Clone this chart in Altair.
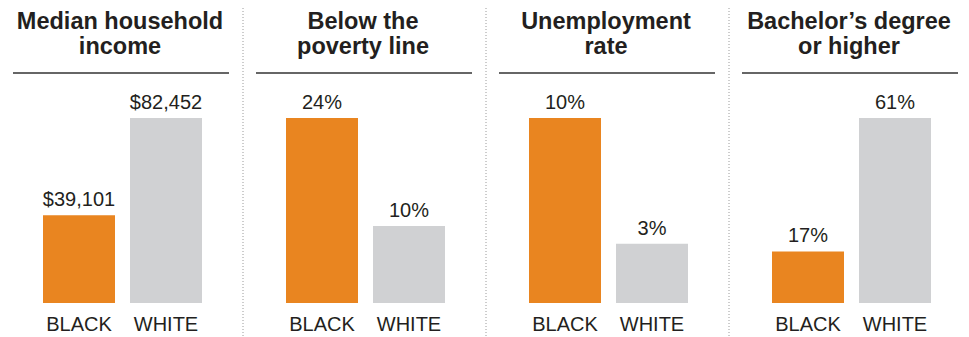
import altair as alt
import pandas as pd

titles = ["Median household\nincome", "Below the\npoverty line", "Unemployment\nrate", "Bachelor’s degree\nor higher"]
groups = ["BLACK", "WHITE"]
black_values = [39101, 24, 10, 17]
white_values = [82452, 10, 3.2, 61]
black_labels = ["$39,101", "24%", "10%", "17%"]
white_labels = ["$82,452", "10%", "3%", "61%"]

ORANGE = "#E98520"
GRAY = "#D0D1D3"
TEXT = "#231F20"
FONT = "Liberation Sans"

rows = []
for i in range(len(titles)):
    rows.append(dict(panel=i, group="BLACK", value=black_values[i], label=black_labels[i]))
    rows.append(dict(panel=i, group="WHITE", value=white_values[i], label=white_labels[i]))
df = pd.DataFrame(rows)
tdf = pd.DataFrame({"panel": list(range(len(titles))), "title": titles})
sdf = pd.DataFrame({"panel": list(range(len(titles) - 1))})

xscale = alt.Scale(domain=list(range(len(titles))), range=[0, 972], paddingInner=0, paddingOuter=0)
X = alt.X("panel:O", scale=xscale, axis=None)
XO = alt.XOffset("group:N", scale=alt.Scale(domain=groups, range=[35, 194], paddingInner=0.1724, paddingOuter=0))
Y = alt.Y("ratio:Q", scale=alt.Scale(domain=[0, 1], range=[295, 110]), axis=None)

base = alt.Chart(df).transform_joinaggregate(
    maxv="max(value)", groupby=["panel"]
).transform_calculate(ratio="datum.value / datum.maxv")

bars = base.mark_bar().encode(
    x=X, xOffset=XO, y=Y,
    color=alt.Color("group:N", scale=alt.Scale(domain=groups, range=[ORANGE, GRAY]), legend=None),
)
values = base.mark_text(baseline="alphabetic", dy=-9, fontSize=20, font=FONT, color=TEXT).encode(
    x=X, xOffset=XO, y=Y, text="label:N"
)
cats = base.mark_text(baseline="alphabetic", fontSize=20, font=FONT, color=TEXT).encode(
    x=X, xOffset=XO, y=alt.value(323), text="group:N"
)
title_text = alt.Chart(tdf).mark_text(
    baseline="alphabetic", align="center", lineBreak="\n", lineHeight=25,
    fontSize=23.5, fontWeight="bold", font=FONT, color=TEXT, dx=-9.5
).encode(x=X, y=alt.value(21), text="title:N")
title_rule = alt.Chart(tdf).mark_bar(width=216, xOffset=-8.5, color="#333333").encode(
    x=X, y=alt.value(64.3), y2=alt.value(65.7)
)
seps = alt.Chart(sdf).mark_rule(color="#9a9a9a", strokeDash=[1, 2], strokeWidth=1, xOffset=113.5).encode(
    x=X, y=alt.value(0), y2=alt.value(329)
)

chart = alt.layer(seps, title_rule, title_text, bars, values, cats).properties(
    width=951, height=329, padding=0,
    autosize=alt.AutoSizeParams(type="none"),
).configure_view(stroke=None)

chart.save("out.html", embed_options={"renderer": "svg", "actions": False})
